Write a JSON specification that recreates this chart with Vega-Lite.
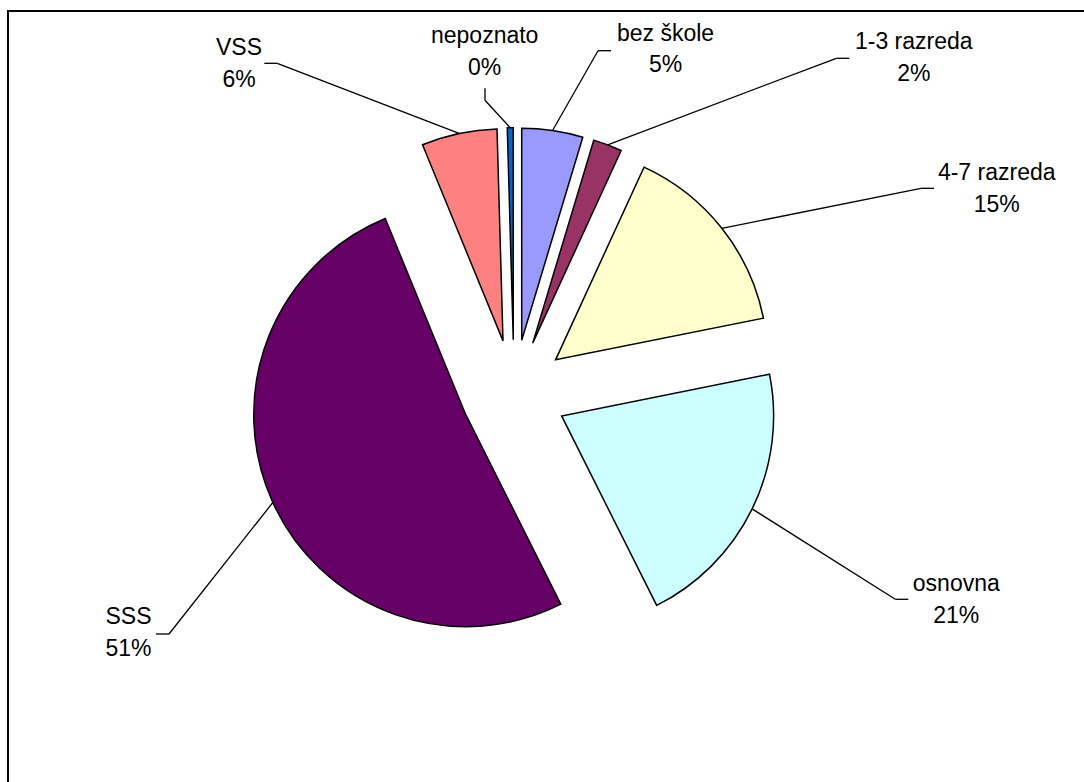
{
  "$schema": "https://vega.github.io/schema/vega-lite/v6.json",
  "width": 1076,
  "height": 771,
  "autosize": {"type": "none"},
  "padding": {"left": 8, "top": 11, "right": 0, "bottom": 0},
  "background": "white",
  "data": {
    "values": [
      {"stupanj": "bez škole", "udio": 4.65},
      {"stupanj": "1-3 razreda", "udio": 2.2},
      {"stupanj": "4-7 razreda", "udio": 15.0},
      {"stupanj": "osnovna", "udio": 20.75},
      {"stupanj": "SSS", "udio": 51.2},
      {"stupanj": "VSS", "udio": 5.75},
      {"stupanj": "nepoznato", "udio": 0.45}
    ]
  },
  "transform": [
    {"window": [{"op": "sum", "field": "udio", "as": "kraj"}], "frame": [null, 0]},
    {"joinaggregate": [{"op": "sum", "field": "udio", "as": "ukupno"}]},
    {"calculate": "datum.kraj - datum.udio", "as": "pocetak"},
    {"calculate": "PI * (datum.pocetak + datum.kraj) / datum.ukupno", "as": "sredina"},
    {"calculate": "53 * sin(datum.sredina)", "as": "cx"},
    {"calculate": "53 * cos(datum.sredina)", "as": "cy"},
    {"calculate": "datum.cx + 212 * sin(datum.sredina)", "as": "sx"},
    {"calculate": "datum.cy + 212 * cos(datum.sredina)", "as": "sy"},
    {"calculate": "indexof(['bez škole', '1-3 razreda', '4-7 razreda', 'osnovna', 'SSS', 'VSS', 'nepoznato'], datum.stupanj)", "as": "i"},
    {"calculate": "[151.5, 399.8, 482.7, 442.3, -385.5, -275, -29.3][datum.i]", "as": "lx"},
    {"calculate": "[352.0, 343.7, 212.7, -198.3, -231.3, 337.7, 349.4][datum.i]", "as": "ly"},
    {"calculate": "[97, 335.3, 420, 394.3, -358, -249.7, -29][datum.i]", "as": "kx"},
    {"calculate": "[342, 334.4, 204.4, -206.6, -241.3, 329.4, 304.4][datum.i]", "as": "ky"},
    {"calculate": "datum.stupanj === 'nepoznato' ? datum.kx : datum.kx + (datum.kx > 0 ? -13 : 13)", "as": "lomx"},
    {"calculate": "datum.stupanj === 'nepoznato' ? datum.ky - 12 : datum.ky", "as": "lomy"},
    {"calculate": "[datum.stupanj, format(datum.udio / 100, '.0%')]", "as": "oznaka"}
  ],
  "layer": [
    {
      "mark": {"type": "arc", "radius": 212, "stroke": "black", "strokeWidth": 1.5},
      "encoding": {
        "x": {"field": "cx", "type": "quantitative", "axis": null, "scale": {"domain": [-506, 570], "nice": false, "zero": false}},
        "y": {"field": "cy", "type": "quantitative", "axis": null, "scale": {"domain": [-389.3, 381.7], "nice": false, "zero": false}},
        "theta": {"field": "pocetak", "type": "quantitative", "stack": null, "scale": {"domain": [0, 100], "range": [0, 6.283185307179586]}},
        "theta2": {"field": "kraj"},
        "color": {
          "field": "stupanj",
          "type": "nominal",
          "legend": null,
          "scale": {
            "domain": ["bez škole", "1-3 razreda", "4-7 razreda", "osnovna", "SSS", "VSS", "nepoznato"],
            "range": ["#9999FF", "#993366", "#FFFFCC", "#CCFFFF", "#660066", "#FF8080", "#0066CC"]
          }
        }
      }
    },
    {
      "mark": {"type": "rule", "color": "black", "strokeWidth": 1.3},
      "encoding": {
        "x": {"field": "sx", "type": "quantitative", "axis": null, "scale": {"domain": [-506, 570], "nice": false, "zero": false}},
        "y": {"field": "sy", "type": "quantitative", "axis": null, "scale": {"domain": [-389.3, 381.7], "nice": false, "zero": false}},
        "x2": {"field": "lomx"},
        "y2": {"field": "lomy"}
      }
    },
    {
      "mark": {"type": "rule", "color": "black", "strokeWidth": 1.3},
      "encoding": {
        "x": {"field": "lomx", "type": "quantitative", "axis": null, "scale": {"domain": [-506, 570], "nice": false, "zero": false}},
        "y": {"field": "lomy", "type": "quantitative", "axis": null, "scale": {"domain": [-389.3, 381.7], "nice": false, "zero": false}},
        "x2": {"field": "kx"},
        "y2": {"field": "ky"}
      }
    },
    {
      "mark": {"type": "text", "align": "center", "baseline": "alphabetic", "font": "Liberation Sans", "fontSize": 23, "lineHeight": 31.7, "color": "black"},
      "encoding": {
        "x": {"field": "lx", "type": "quantitative", "axis": null, "scale": {"domain": [-506, 570], "nice": false, "zero": false}},
        "y": {"field": "ly", "type": "quantitative", "axis": null, "scale": {"domain": [-389.3, 381.7], "nice": false, "zero": false}},
        "text": {"field": "oznaka"}
      }
    }
  ],
  "config": {
    "view": {"stroke": "black", "strokeWidth": 2, "strokeDash": [1076, 1847, 771]}
  }
}
